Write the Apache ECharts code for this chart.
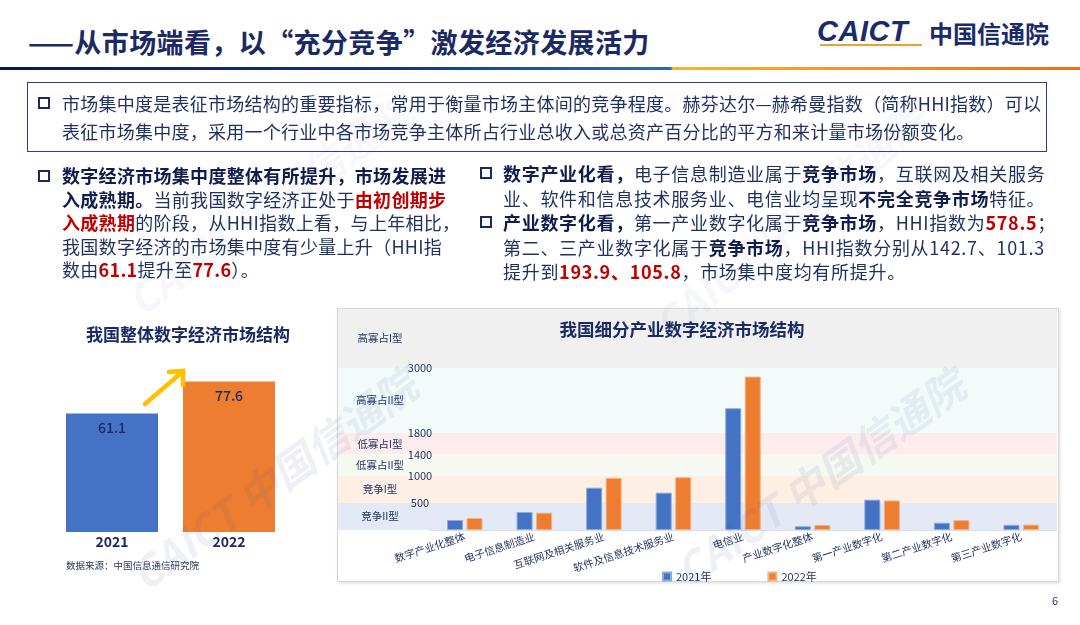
<!DOCTYPE html>
<html>
<head>
<meta charset="utf-8">
<script src="https://cdn.jsdelivr.net/npm/echarts@6/dist/echarts.min.js"></script>
<style>
  body { margin: 0; width: 1080px; height: 625px; position: relative; background: #fff; overflow: hidden;
         font-family: "Noto Sans CJK SC", "Noto Sans", sans-serif; color: #1F2F5F; }
  .abs { position: absolute; white-space: nowrap; }
  .b { font-weight: 700; color: #0F1C4D; }
  .r { font-weight: 700; color: #C00000; }
  .sq { position: absolute; width: 8px; height: 8px; border: 2px solid #1B2A5E; }
  .txt { font-size: 18px; line-height: 24px; }
</style>
</head>
<body>
<!-- header -->
<div class="abs" style="left:28px;top:24px;font-size:27px;font-weight:700;color:#1B2A64;letter-spacing:0.4px;line-height:36px;">——从市场端看，以“充分竞争”激发经济发展活力</div>
<div class="abs" style="left:817px;top:15px;font-size:29px;font-weight:700;font-style:italic;color:#1B2A6B;font-family:'Liberation Sans',sans-serif;letter-spacing:0.5px;line-height:32px;">CAICT</div>
<div class="abs" style="left:820px;top:44px;width:102px;height:2px;background:#F0A030;"></div>
<div class="abs" style="left:929px;top:16px;font-size:24px;font-weight:700;color:#1B2A6B;line-height:34px;">中国信通院</div>
<div class="abs" style="left:0;top:67px;width:1080px;height:3px;background:linear-gradient(to right,#0B1A55 0%,#16307A 35%,#2C6DB5 62.1%,#F6B23C 62.3%,#E8701A 100%);"></div>

<!-- right chart frame (behind chart canvas) -->
<div class="abs" style="left:337px;top:308px;width:720px;height:272px;border:1px solid #D9D9D9;box-shadow:1px 1px 3px rgba(0,0,0,0.15);background:#fff;"></div>

<div id="chart" style="position:absolute;left:0;top:0;width:1080px;height:625px;"></div>

<!-- intro box -->
<div class="abs" style="left:27px;top:82px;width:1018px;height:68px;border:1.5px solid #2F3F7F;"></div>
<div class="sq" style="left:38px;top:97px;"></div>
<div class="abs txt" style="left:62px;top:91px;letter-spacing:0.25px;">市场集中度是表征市场结构的重要指标，常用于衡量市场主体间的竞争程度。赫芬达尔—赫希曼指数（简称HHI指数）可以</div>
<div class="abs txt" style="left:62px;top:119px;letter-spacing:0.25px;">表征市场集中度，采用一个行业中各市场竞争主体所占行业总收入或总资产百分比的平方和来计量市场份额变化。</div>

<!-- left text block -->
<div class="sq" style="left:38px;top:170px;"></div>
<div class="abs txt" style="left:62px;top:164px;letter-spacing:0.3px;line-height:23.5px;">
<span class="b">数字经济市场集中度整体有所提升，市场发展进</span><br>
<span class="b">入成熟期。</span>当前我国数字经济正处于<span class="r">由初创期步</span><br>
<span class="r">入成熟期</span>的阶段，从HHI指数上看，与上年相比，<br>
我国数字经济的市场集中度有少量上升（HHI指<br>
数由<span class="r">61.1</span>提升至<span class="r">77.6</span>）。
</div>

<!-- right text block -->
<div class="sq" style="left:480px;top:167px;"></div>
<div class="abs txt" style="left:503px;top:161px;letter-spacing:0.7px;line-height:24.5px;">
<span class="b">数字产业化看，</span>电子信息制造业属于<span class="b">竞争市场</span>，互联网及相关服务<br>
业、软件和信息技术服务业、电信业均呈现<span class="b">不完全竞争市场</span>特征。
</div>
<div class="sq" style="left:480px;top:216px;"></div>
<div class="abs txt" style="left:503px;top:210px;letter-spacing:0.7px;line-height:24.5px;">
<span class="b">产业数字化看，</span>第一产业数字化属于<span class="b">竞争市场</span>，HHI指数为<span class="r">578.5</span>；<br>
第二、三产业数字化属于<span class="b">竞争市场</span>，HHI指数分别从142.7、101.3<br>
提升到<span class="r">193.9、105.8</span>，市场集中度均有所提升。
</div>

<div class="abs" style="left:66px;top:558px;font-size:9.5px;color:#2A3558;">数据来源：中国信息通信研究院</div>
<div class="abs" style="left:1052px;top:592px;font-size:11px;color:#1F2F5F;">6</div>

<script>
// 整体 HHI
const overallYears = ['2021', '2022'];
const overallHHI = [61.1, 77.6];

// 细分产业 HHI
const industries = ['数字产业化整体', '电子信息制造业', '互联网及相关服务业', '软件及信息技术服务业',
  '电信业', '产业数字化整体', '第一产业数字化', '第二产业数字化', '第三产业数字化'];
const hhi2021 = [196, 353, 829, 731, 2386, 73, 594, 142.7, 101.3];
const hhi2022 = [235, 339, 1020, 1033, 3006, 98, 578.5, 193.9, 105.8];

// 市场结构分级
const bandNames = ['竞争II型', '竞争I型', '低寡占II型', '低寡占I型', '高寡占II型', '高寡占I型'];
const bandEdges = [0, 500, 1000, 1400, 1800, 3000, 4090];
const tickValues = [500, 1000, 1400, 1800, 3000];

const navy = '#1F2F5F';
const font = '"Noto Sans CJK SC", sans-serif';
const bandColors = ['#E4E9F6', '#FDEFE4', '#F6F9F1', '#FDECEE', '#F2FBFA', '#F0F0F0'];
const overallColors = ['#4472C4', '#ED7D31'];

const chart = echarts.init(document.getElementById('chart'));

function watermark(x, y, deg, alpha) {
  return {
    type: 'text', x: x, y: y, rotation: deg * Math.PI / 180, z: 100, silent: true,
    style: {
      text: 'CAICT 中国信通院', font: 'bold italic 42px "Noto Sans CJK SC"',
      fill: 'rgba(70,90,150,' + alpha + ')', align: 'center', verticalAlign: 'middle'
    }
  };
}

const option = {
  textStyle: { fontFamily: font },
  title: [
    { text: '我国整体数字经济市场结构', left: 183, top: 321, textAlign: 'center',
      textStyle: { fontSize: 17, fontWeight: 'bold', color: '#1B2A64' } },
    { text: '我国细分产业数字经济市场结构', left: 677, top: 316, textAlign: 'center',
      textStyle: { fontSize: 17.5, fontWeight: 'bold', color: '#1B2A64' } }
  ],
  legend: {
    data: ['2021年', '2022年'], left: 657, top: 566, icon: 'rect',
    itemWidth: 8, itemHeight: 8, itemGap: 56,
    textStyle: { fontSize: 11, color: navy }
  },
  grid: [
    { left: 53.5, top: 338, width: 234, height: 194 },
    { left: 338, top: 309, width: 719, height: 221 },
    { left: 430, top: 309, width: 626, height: 221 }
  ],
  xAxis: [
    { type: 'category', gridIndex: 0, data: overallYears,
      axisLine: { show: false }, axisTick: { show: false },
      axisLabel: { margin: 3, fontSize: 14, fontWeight: 'bold', color: '#1B2A64' } },
    { type: 'value', gridIndex: 1, min: 0, max: 1, show: false },
    { type: 'category', gridIndex: 2, data: industries,
      axisLine: { lineStyle: { color: '#CDD2DE', width: 1.5 } }, axisTick: { show: false },
      axisLabel: { interval: 0, rotate: 18, margin: 6, fontSize: 10.5, color: navy } }
  ],
  yAxis: [
    { type: 'value', gridIndex: 0, min: 0, max: 100, show: false },
    { type: 'value', gridIndex: 1, min: 0, max: 4090, z: 10,
      axisLine: { show: false }, axisTick: { show: false }, splitLine: { show: false },
      axisLabel: { inside: true, margin: 82, align: 'center', customValues: tickValues,
        formatter: v => String(v), fontSize: 11, color: navy } },
    { type: 'value', gridIndex: 2, min: 0, max: 4330, show: false }
  ],
  series: [
    {
      type: 'bar', name: 'overall', xAxisIndex: 0, yAxisIndex: 0, barWidth: 92,
      data: overallHHI.map((v, i) => ({ value: v, itemStyle: { color: overallColors[i] } })),
      label: { show: true, position: 'insideTop', distance: 7, fontSize: 14, fontWeight: 500, color: '#1B2A64' }
    },
    {
      type: 'scatter', name: 'bands', xAxisIndex: 1, yAxisIndex: 1, z: 1, silent: true,
      symbolSize: 0, data: [[0, 0]],
      markArea: {
        silent: true,
        label: { show: true, position: [42, '50%'], align: 'center', verticalAlign: 'middle',
          fontSize: 10.5, color: navy },
        data: bandNames.map((n, i) => [
          { name: n, yAxis: bandEdges[i], itemStyle: { color: bandColors[i] } },
          { yAxis: bandEdges[i + 1] }
        ])
      }
    },
    {
      type: 'bar', name: '2021年', xAxisIndex: 2, yAxisIndex: 2, z: 3, data: hhi2021,
      barWidth: 16, barGap: '22%',
      itemStyle: { color: '#4472C4', borderColor: '#8EA9DB', borderWidth: 1 }
    },
    {
      type: 'bar', name: '2022年', xAxisIndex: 2, yAxisIndex: 2, z: 3, data: hhi2022,
      barWidth: 16, barGap: '22%',
      itemStyle: { color: '#ED7D31', borderColor: '#F4B183', borderWidth: 1 }
    }
  ],
  graphic: [
    // 上升箭头
    { type: 'line', silent: true, z: 50,
      shape: { x1: 145, y1: 404, x2: 181, y2: 373 },
      style: { stroke: '#FFC000', lineWidth: 4.5, lineCap: 'round' } },
    { type: 'polyline', silent: true, z: 50,
      shape: { points: [[169, 372], [183, 371], [183, 385]] },
      style: { stroke: '#FFC000', lineWidth: 4.5, fill: null, lineJoin: 'miter', lineCap: 'round' } },
    watermark(274, 480, 36, 0.09),
    watermark(820, 478, 35, 0.09),
    watermark(270, 205, 36, 0.05),
    watermark(790, 222, 40, 0.05)
  ]
};

chart.setOption(option);
</script>
</body>
</html>
